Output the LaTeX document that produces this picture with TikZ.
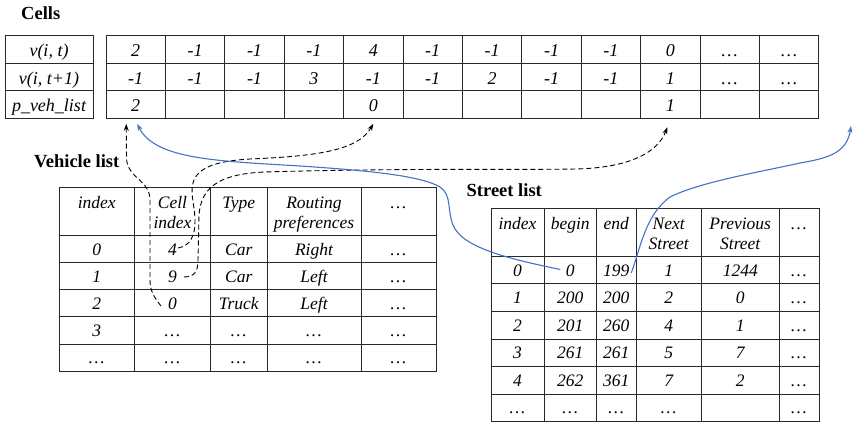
\documentclass[tikz,border=0pt]{standalone}
\usepackage{fontspec}
\setmainfont{Liberation Serif}
\usetikzlibrary{arrows.meta,calc}

\newcommand\topfont{\fontsize{18}{21}\selectfont\itshape}
\newcommand\listfont{\fontsize{17.5}{20}\selectfont\itshape}
\newcommand\titlefont{\fontsize{18.5}{22}\selectfont\bfseries}
\newcommand\dd{\ldots}

\definecolor{linkblue}{RGB}{68,114,196}
\definecolor{rulegray}{RGB}{40,40,40}

\tikzset{
  box/.style={draw=rulegray, line width=1pt, rectangle, inner sep=0pt, outer sep=0pt},
  topcell/.style={box, font=\topfont, text height=14.4pt, text depth=0pt},
  listcell/.style={box, font=\listfont, text height=12pt, text depth=0pt},
  hdrtext/.style={inner sep=0pt, font=\listfont, anchor=base},
  title/.style={inner sep=0pt, font=\titlefont, anchor=base west},
  vptr/.style={line width=0.9pt, dash pattern=on 5pt off 3pt, -{Stealth[length=7pt,width=5pt]}},
  sptr/.style={draw=linkblue, line width=1.1pt, -{Stealth[length=7pt,width=5pt]}},
}

\begin{document}
\begin{tikzpicture}[x=1pt,y=-1pt]
\useasboundingbox (0,0) rectangle (852,422);

% ---------------- Cells ----------------
\node[title] (celltitle) at (21,19.3) {Cells};

\foreach \t/\ya/\yb [count=\r] in {{v(i, t)}/35.7/63.3, {v(i, t+1)}/63.3/90.9, {p\_veh\_list}/90.9/118.3}
  \node[topcell, minimum width=88, minimum height={\yb-\ya}] (lab\r) at (49,{(\ya+\yb)/2}) {\t};

\foreach \v [count=\c] in {2,-1,-1,-1,4,-1,-1,-1,-1,0,\dd,\dd}
  \node[topcell, minimum width=59.4, minimum height=27.6] (ca\c) at ({106+59.4*(\c-0.5)},49.5) {\v};
\foreach \v [count=\c] in {-1,-1,-1,3,-1,-1,2,-1,-1,1,\dd,\dd}
  \node[topcell, minimum width=59.4, minimum height=27.6] (cb\c) at ({106+59.4*(\c-0.5)},77.1) {\v};
\foreach \v [count=\c] in {2,{},{},{},0,{},{},{},{},1,{},{}}
  \node[topcell, minimum width=59.4, minimum height=27.4] (cc\c) at ({106+59.4*(\c-0.5)},104.6) {\v};

% ---------------- Vehicle list ----------------
\node[title] (vehtitle) at (34,167.5) {Vehicle list};
\def\vcols{{59,134.5,210.5,267,361,436}}

\foreach \la/\lb [count=\c] in {index/{}, Cell/index, Type/{}, Routing/preferences, \dd/{}} {
  \pgfmathsetmacro\colL{\vcols[\c-1]}
  \pgfmathsetmacro\colR{\vcols[\c]}
  \node[box, minimum width={\colR-\colL}, minimum height=48] (vh\c) at ({(\colL+\colR)/2},212) {};
  \node[hdrtext] (vh\c a) at ({(\colL+\colR)/2},209) {\la};
  \node[hdrtext] (vh\c b) at ({(\colL+\colR)/2},229) {\lb};
}

\foreach \r/\ya/\yb/\vals in {0/236/263/{0,4,Car,Right,\dd},
                              1/263/290/{1,9,Car,Left,\dd},
                              2/290/317/{2,0,Truck,Left,\dd},
                              3/317/344/{3,\dd,\dd,\dd,\dd},
                              4/344/371.7/{\dd,\dd,\dd,\dd,\dd}} {
  \foreach \v [count=\c] in \vals {
    \pgfmathsetmacro\colL{\vcols[\c-1]}
    \pgfmathsetmacro\colR{\vcols[\c]}
    \node[listcell, minimum width={\colR-\colL}, minimum height={\yb-\ya}] (v\r-\c)
      at ({(\colL+\colR)/2},{(\ya+\yb)/2}) {\v};
  }
}

% ---------------- Street list ----------------
\node[title] (streettitle) at (466.5,197) {Street list};
\def\scols{{491,544,596.5,636,701.5,779,819}}

\foreach \la/\lb [count=\c] in {index/{}, begin/{}, end/{}, Next/Street, Previous/Street, \dd/{}} {
  \pgfmathsetmacro\colL{\scols[\c-1]}
  \pgfmathsetmacro\colR{\scols[\c]}
  \node[box, minimum width={\colR-\colL}, minimum height=48] (sh\c) at ({(\colL+\colR)/2},233) {};
  \node[hdrtext] (sh\c a) at ({(\colL+\colR)/2},230) {\la};
  \node[hdrtext] (sh\c b) at ({(\colL+\colR)/2},250) {\lb};
}

\foreach \r/\ya/\yb/\vals in {0/257/284/{0,0,199,1,1244,\dd},
                              1/284/311.5/{1,200,200,2,0,\dd},
                              2/311.5/339/{2,201,260,4,1,\dd},
                              3/339/366.5/{3,261,261,5,7,\dd},
                              4/366.5/394/{4,262,361,7,2,\dd},
                              5/394/421/{\dd,\dd,\dd,\dd,{},\dd}} {
  \foreach \v [count=\c] in \vals {
    \pgfmathsetmacro\colL{\scols[\c-1]}
    \pgfmathsetmacro\colR{\scols[\c]}
    \node[listcell, minimum width={\colR-\colL}, minimum height={\yb-\ya}] (s\r-\c)
      at ({(\colL+\colR)/2},{(\ya+\yb)/2}) {\v};
  }
}

% ---------------- vehicle -> cell pointers ----------------
\draw[vptr] ($(v2-2.center)+(-11.5,2.5)$) .. controls (155,298) and (150,292) .. (150,280)
  -- (150,200) .. controls (150,180) and (127,178) .. (126.5,158)
  -- ($(cc1.south)+(-9.5,5.5)$);

\draw[vptr] ($(v0-2.center)+(5.5,-1.5)$) .. controls (190,246) and (195,236) .. (195,222)
  .. controls (195,205) and (190,195) .. (193,183)
  .. controls (197,168) and (215,161) .. (250,159)
  .. controls (320,156) and (358,150) .. ($(cc5.south)+(0,5.5)$);

\draw[vptr] ($(v1-2.center)+(11.5,0.5)$) .. controls (194,277) and (198,272) .. (198,260)
  -- (199,215) .. controls (201,190) and (215,174) .. (265,172)
  .. controls (400,168) and (530,170) .. (575,169)
  .. controls (630,168) and (658,152) .. ($(cc10.south)+(-3,9)$);

% ---------------- street -> cell pointers ----------------
\draw[sptr] ($(s0-2.center)+(-10,-1)$) .. controls (510,259) and (462,248) .. (453,225)
  .. controls (447,210) and (452,195) .. (440,187)
  .. controls (420,175) and (360,170) .. (300,166)
  .. controls (220,161) and (155,160) .. ($(cc1.south)+(1.5,5.5)$);

\coordinate (offright) at (851,126);
\draw[sptr] ($(s0-3.center)+(15,2.5)$) .. controls (640,250) and (645,215) .. (670,197)
  .. controls (700,182) and (760,172) .. (800,163)
  .. controls (830,158) and (847,152) .. (offright);

\end{tikzpicture}
\end{document}
